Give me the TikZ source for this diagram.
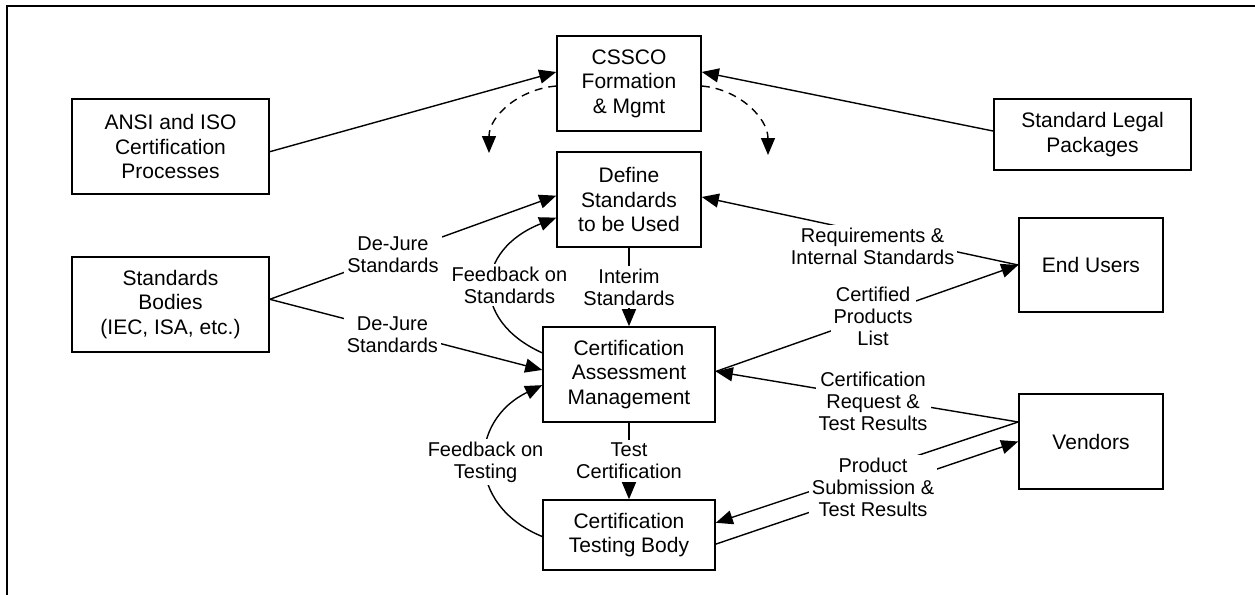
\documentclass[tikz,border=0pt]{standalone}
\usepackage{fontspec}
\setmainfont{Liberation Sans}
\usetikzlibrary{arrows.meta}

\begin{document}
\begin{tikzpicture}[
  x=0.5pt, y=-0.5pt,
  box/.style={draw, line width=0.8pt, align=center, inner sep=0pt,
    font=\fontsize{10.5}{12.3}\selectfont},
  lbl/.style={fill=white, align=center, inner sep=1.5pt,
    font=\fontsize{10}{11}\selectfont},
  flow/.style={line width=0.7pt, -{Triangle[length=8.5pt,width=7pt]}},
  dashflow/.style={flow, dash pattern=on 4pt off 3pt}
]
\useasboundingbox (0,0) rectangle (1255,595);
\draw[line width=1pt] (7,595) -- (7,6) -- (1255,6);   % page frame

% middle column
\node[box, minimum width=72pt, minimum height=47.5pt] (cssco) at (629,83.5) {CSSCO\\Formation\\\& Mgmt};
\node[box, minimum width=72pt, minimum height=47.5pt] (define) at (629,199.5) {Define\\Standards\\to be Used};
\node[box, minimum width=86pt, minimum height=47.5pt] (ca) at (629,374.5) {Certification\\Assessment\\Management};
\node[box, minimum width=86pt, minimum height=35pt] (ctb) at (629,535) {Certification\\Testing Body};

% outside parties
\node[box, minimum width=98.5pt, minimum height=47.5pt] (ansi) at (170.5,146.5) {ANSI and ISO\\Certification\\Processes};
\node[box, minimum width=98.5pt, minimum height=47.5pt] (bodies) at (170.5,304.5) {Standards\\Bodies\\(IEC, ISA, etc.)};
\node[box, minimum width=98.5pt, minimum height=35.5pt] (legal) at (1092.5,134.5) {Standard Legal\\Packages};
\node[box, minimum width=72pt, minimum height=47pt] (users) at (1091,265) {End Users};
\node[box, minimum width=72pt, minimum height=47.5pt] (vendors) at (1091,441.5) {Vendors};

\draw[flow] (ansi.-3) -- (cssco.171);
\draw[flow] (legal.178) -- (cssco.9);

% oversight of the rest
\coordinate (dl) at (489,153);
\coordinate (dr) at (768,155);
\draw[dashflow] (cssco.182) .. controls +(-37,3) and +(0,-37) .. (dl);
\draw[dashflow] (cssco.358) .. controls +(37,3) and +(0,-37) .. (dr);

\draw[flow] (bodies.3) -- node[lbl, pos=0.43] {De-Jure\\Standards} (define.177);
\draw[flow] (bodies.3) -- node[lbl, pos=0.45, yshift=-2pt] {De-Jure\\Standards} (ca.177);

% feedback loops
\draw[flow] (ca.166) .. controls +(-73,-33) and +(-81,32) .. node[lbl, xshift=9pt] {Feedback on\\Standards} (define.194);
\draw[flow] (ctb.181) .. controls +(-78,-32) and +(-73,35) .. node[lbl] {Feedback on\\Testing} (ca.187);

\draw[flow] (define) -- node[lbl] {Interim\\Standards} (ca);
\draw[flow] (ca) -- node[lbl] {Test\\Certification} (ctb);

\draw[flow] (users.west) -- node[lbl, pos=0.46, yshift=-6.5pt] {Requirements \&\\Internal Standards} (define.2);
\draw[flow] (ca.2) -- node[lbl, pos=0.52] {Certified\\Products\\List} (users.west);
\draw[flow] (vendors.165) -- node[lbl, pos=0.48, yshift=-2pt] {Certification\\Request \&\\Test Results} (ca.2);
\draw[flow] (vendors.165) -- (ctb.8);
\draw[flow] (ctb.-6) -- node[lbl, pos=0.52, yshift=1.5pt] {Product\\Submission \&\\Test Results} (vendors.west);
\end{tikzpicture}
\end{document}
